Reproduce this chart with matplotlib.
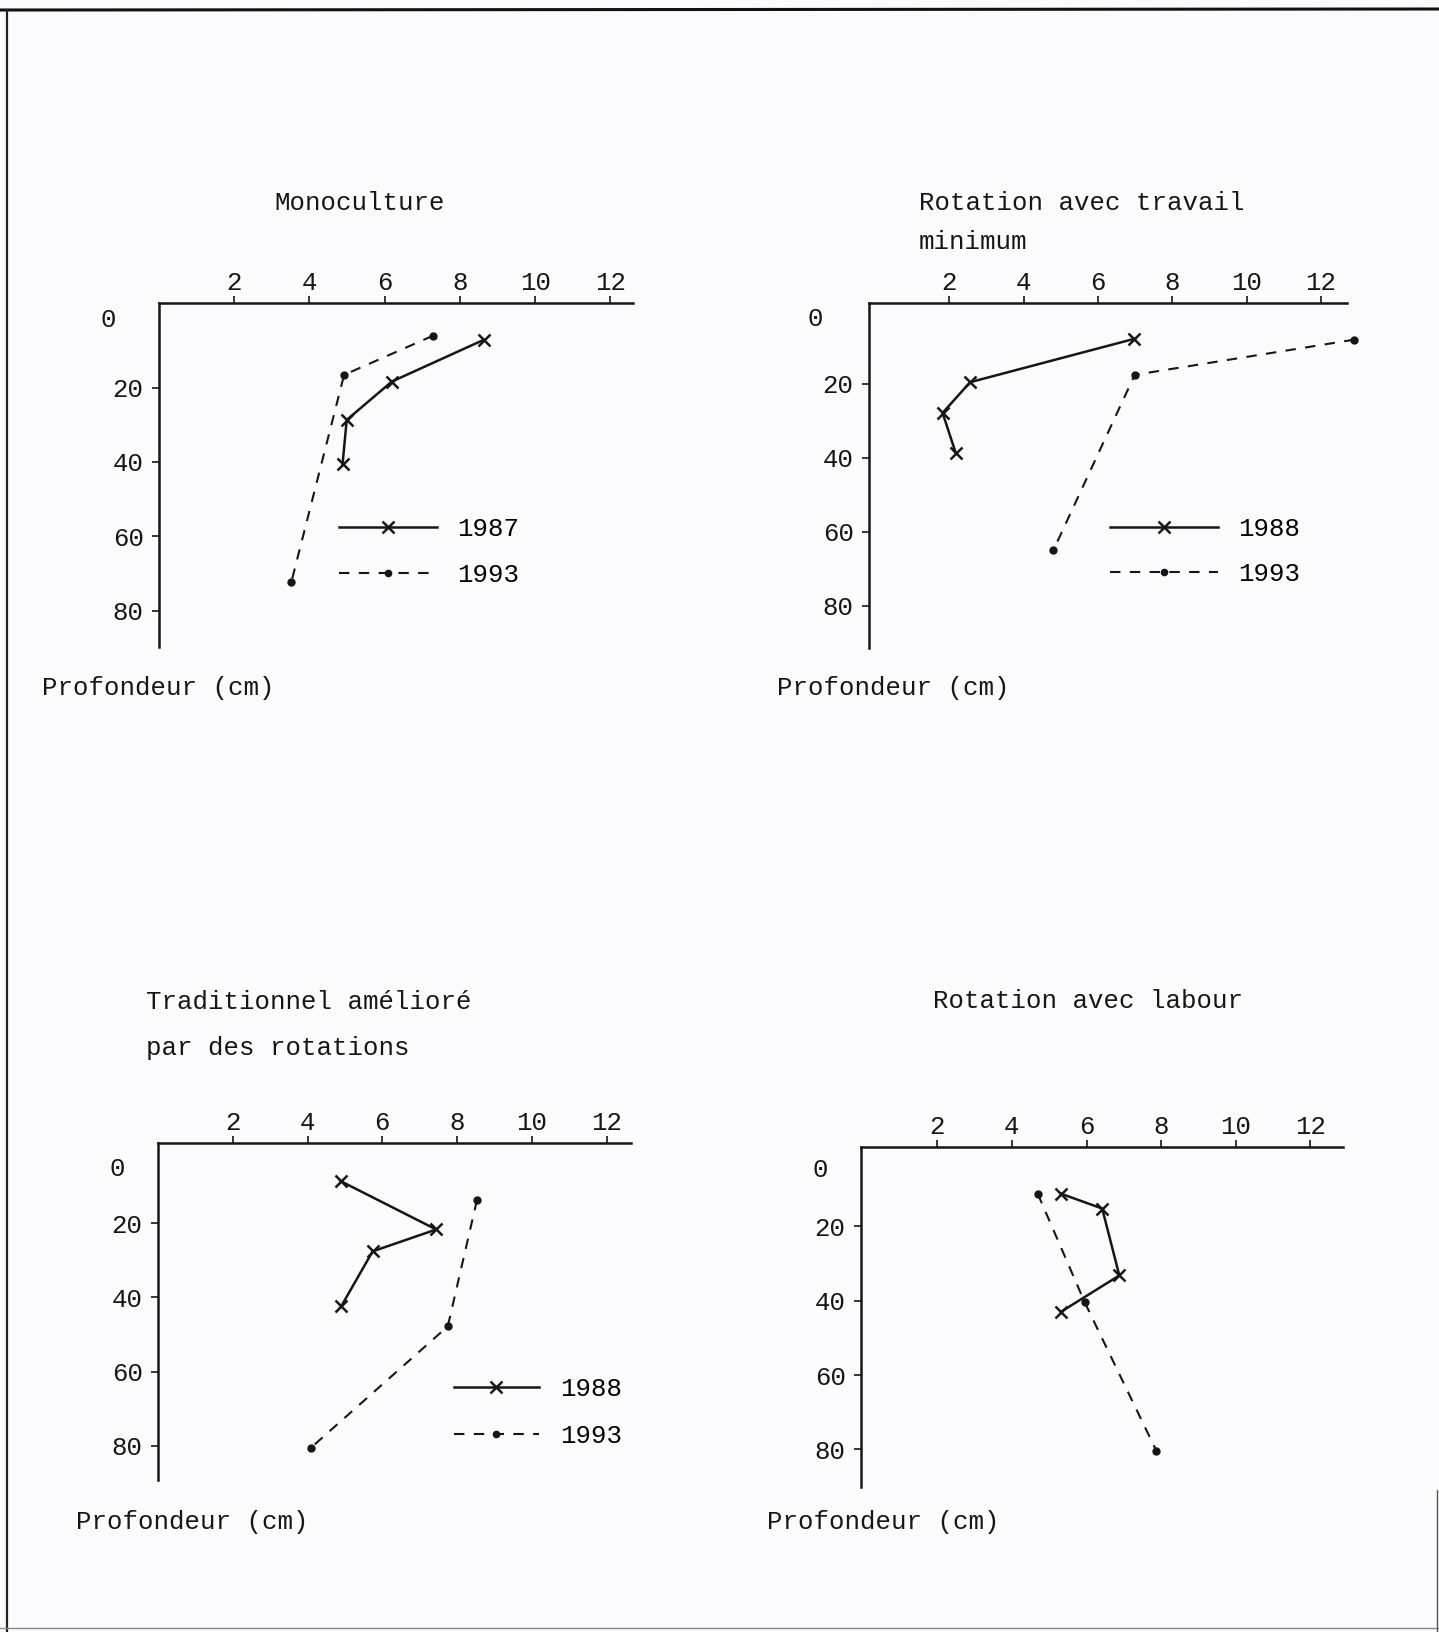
"""Profils de profondeur : quatre systemes de culture, 1987/1988 vs 1993."""
import numpy as np
import matplotlib
matplotlib.use("Agg")
import matplotlib.pyplot as plt
from matplotlib.lines import Line2D
from matplotlib.transforms import ScaledTranslation

W, H = 1439, 1632
FONT = "Liberation Mono"
FS = 18.5
plt.rcParams['font.family'] = [FONT, 'DejaVu Sans Mono']

# --- data (valeur, profondeur cm) ---
mono_87_x = [8.63, 6.19, 4.99, 4.88]
mono_87_d = [7.2, 18.4, 28.7, 40.5]
mono_93_x = [7.28, 4.92, 3.52]
mono_93_d = [6.1, 16.6, 72.2]

rtm_88_x = [6.97, 2.56, 1.82, 2.17]
rtm_88_d = [7.9, 19.6, 27.9, 38.6]
rtm_93_x = [12.9, 6.99, 4.8]
rtm_93_d = [8.1, 17.6, 65.0]

trad_88_x = [4.89, 7.44, 5.74, 4.90]
trad_88_d = [8.7, 21.7, 27.6, 42.4]
trad_93_x = [8.53, 7.75, 4.08]
trad_93_d = [13.8, 47.8, 80.6]

lab_88_x = [5.31, 6.42, 6.88, 5.31]
lab_88_d = [11.2, 15.2, 33.2, 43.0]
lab_93_x = [4.69, 5.95, 7.87]
lab_93_d = [11.2, 40.4, 80.3]

x_ticks = [2, 4, 6, 8, 10, 12]
y_ticks = [0, 20, 40, 60, 80]

BG = '#fbfbfd'
INK = '#161616'
DASH = (0, (5, 4.5))
LW = 1.8

fig = plt.figure(figsize=(W / 100, H / 100), dpi=100, facecolor=BG)


def add_panel(left, right, top, bottom, xlim, ylim, zero_shift):
    ax = fig.add_axes([left / W, 1 - bottom / H, (right - left) / W, (bottom - top) / H])
    ax.set_facecolor('none')
    ax.set_xlim(*xlim)
    ax.set_ylim(*ylim)
    for s in ['bottom', 'right']:
        ax.spines[s].set_visible(False)
    for s in ['top', 'left']:
        ax.spines[s].set_linewidth(1.8)
        ax.spines[s].set_color(INK)
    ax.xaxis.tick_top()
    ax.set_xticks(x_ticks)
    ax.set_xticklabels([str(v) for v in x_ticks])
    ax.set_yticks(y_ticks)
    ax.set_yticklabels([str(v) for v in y_ticks])
    ax.tick_params(axis='x', direction='out', length=5, width=1.2, pad=1,
                   labelsize=FS, colors=INK)
    ax.tick_params(axis='y', direction='out', length=5, width=1.2, pad=6,
                   labelsize=FS, colors=INK)
    t0 = ax.yaxis.get_major_ticks()[0]
    t0.tick1line.set_visible(False)
    # the typed "0" sits a little off the tick grid on the page
    dx, dy = zero_shift
    t0.label1.set_transform(t0.label1.get_transform() +
                            ScaledTranslation(dx / 100, -dy / 100, fig.dpi_scale_trans))
    return ax


def draw(ax, xs1, ds1, xs2, ds2):
    ax.plot(xs1, ds1, color=INK, lw=LW, marker='x', ms=9, mew=1.8, clip_on=False)
    ax.plot(xs2, ds2, color=INK, lw=1.5, ls=DASH, marker='o', ms=5, clip_on=False)


def legend(ax, labels, x, y, hl, htp, ls):
    h1 = Line2D([], [], color=INK, lw=LW, marker='x', ms=9, mew=1.8)
    h2 = Line2D([], [], color=INK, lw=1.5, ls=DASH, marker='o', ms=4.5)
    ax.legend([h1, h2], labels, loc='upper left', bbox_to_anchor=(x / W, 1 - y / H),
              bbox_transform=fig.transFigure, frameon=False, borderpad=0,
              borderaxespad=0, handlelength=hl, handletextpad=htp,
              labelspacing=ls, fontsize=FS, numpoints=1)


# Monoculture
ax1 = add_panel(159, 633, 303, 647, (0, 12.6), (89.7, -2.7), (-28, 4))
draw(ax1, mono_87_x, mono_87_d, mono_93_x, mono_93_d)
legend(ax1, ['1987', '1993'], 339, 517, 3.8, 0.8, 0.85)

# Rotation avec travail minimum
ax2 = add_panel(869, 1347, 303, 648, (-0.16, 12.7), (91.4, -1.8), (-31, 7))
draw(ax2, rtm_88_x, rtm_88_d, rtm_93_x, rtm_93_d)
legend(ax2, ['1988', '1993'], 1110, 517, 4.2, 0.78, 0.82)

# Traditionnel ameliore par des rotations
ax3 = add_panel(158, 631, 1143, 1480, (0, 12.65), (89.2, -1.6), (-18, 18))
draw(ax3, trad_88_x, trad_88_d, trad_93_x, trad_93_d)
legend(ax3, ['1988', '1993'], 454, 1377, 3.3, 0.82, 0.88)

# Rotation avec labour
ax4 = add_panel(861, 1343, 1147, 1487, (-0.05, 12.88), (90.1, -1.35), (-18, 15))
draw(ax4, lab_88_x, lab_88_d, lab_93_x, lab_93_d)

# titles and axis captions typed on the page
texts = [
    (274, 203, "Monoculture"),
    (919, 203, "Rotation avec travail"),
    (919, 242, "minimum"),
    (146, 1002, "Traditionnel amélioré"),
    (146, 1048, "par des rotations"),
    (933, 1001, "Rotation avec labour"),
    (42, 688, "Profondeur (cm)"),
    (777, 688, "Profondeur (cm)"),
    (76, 1522, "Profondeur (cm)"),
    (767, 1522, "Profondeur (cm)"),
]
for x, y, s in texts:
    fig.text(x / W, 1 - y / H, s, fontsize=FS, color=INK, ha='left', va='center')

# scan frame
fig.add_artist(Line2D([0, 1], [1 - 10 / H, 1 - 9 / H], color='#111111', lw=2.2))
fig.add_artist(Line2D([7 / W, 7 / W], [0, 1 - 10 / H], color='#222222', lw=1.6))
fig.add_artist(Line2D([0, 1], [1 - 1628 / H, 1 - 1628 / H], color='#888888', lw=1.0))
fig.add_artist(Line2D([1437 / W, 1437 / W], [0, 1 - 1490 / H], color='#555555', lw=1.0))

plt.savefig("out.png", dpi=100, facecolor=BG)
